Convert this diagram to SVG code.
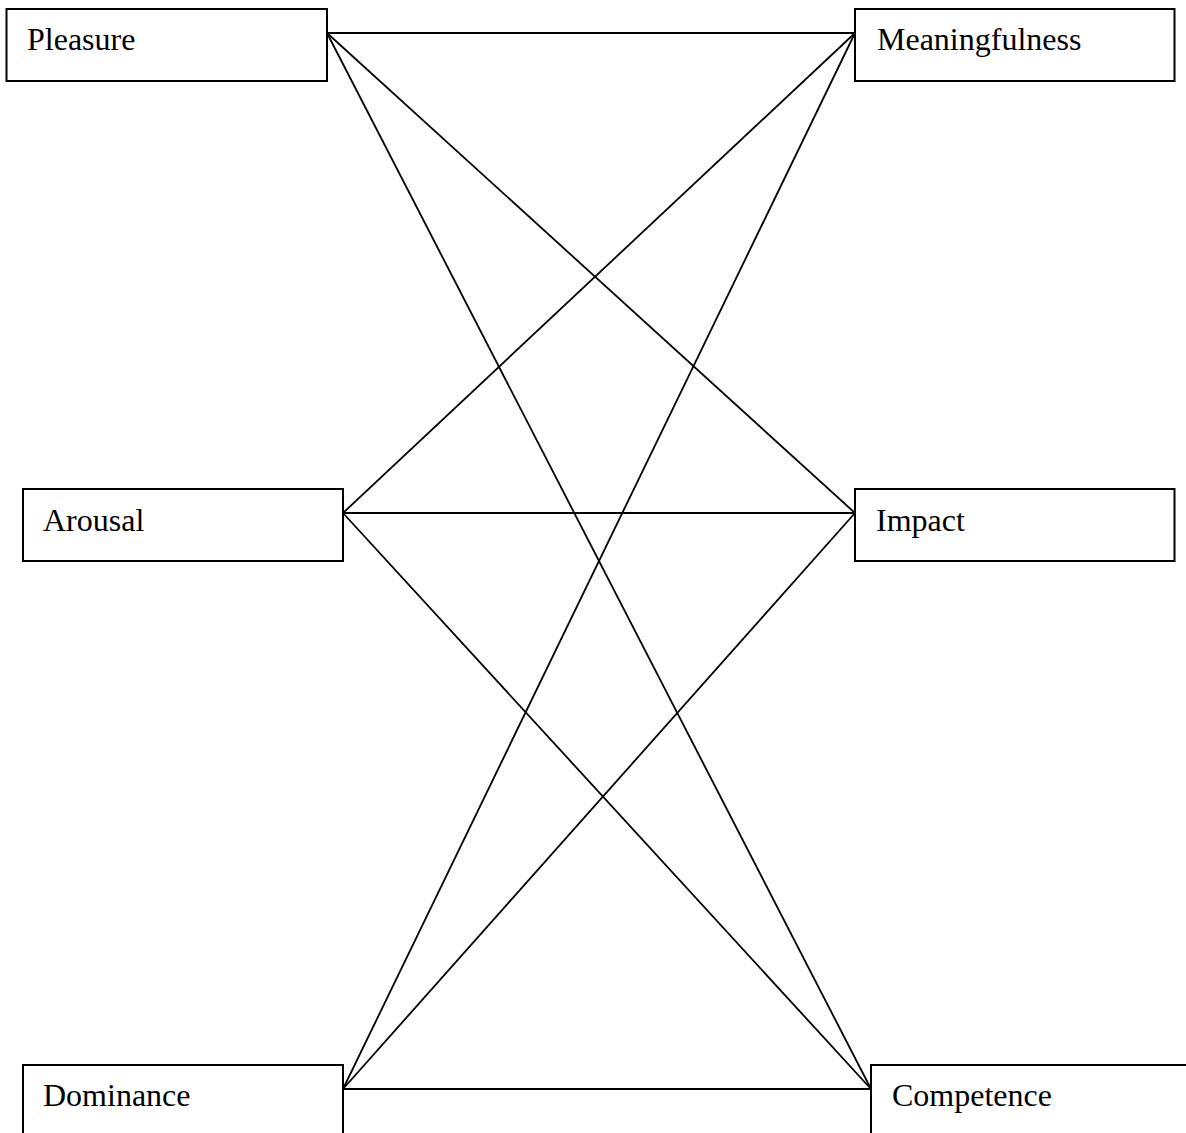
<svg xmlns="http://www.w3.org/2000/svg" width="1186" height="1133" viewBox="0 0 1186 1133">
<style>
.box{fill:#fff;stroke:#000;stroke-width:2}
.lbl{font-family:"Liberation Serif","Times New Roman",serif;font-size:32px;fill:#000}
.edge{stroke:#000;stroke-width:1.8;fill:none}
</style>
<rect width="1186" height="1133" fill="#fff"/>
<g id="connectors">
<line class="edge" x1="327" y1="33" x2="855" y2="33"/>
<line class="edge" x1="327" y1="33" x2="855" y2="513"/>
<line class="edge" x1="327" y1="33" x2="871" y2="1089"/>
<line class="edge" x1="343" y1="513" x2="855" y2="33"/>
<line class="edge" x1="343" y1="513" x2="855" y2="513"/>
<line class="edge" x1="343" y1="513" x2="871" y2="1089"/>
<line class="edge" x1="343" y1="1089" x2="855" y2="33"/>
<line class="edge" x1="343" y1="1089" x2="855" y2="513"/>
<line class="edge" x1="343" y1="1089" x2="871" y2="1089"/>
</g>
<g id="pleasure"><rect class="box" x="6.5" y="9" width="320.5" height="72"/><text class="lbl" x="27" y="50">Pleasure</text></g>
<g id="meaningfulness"><rect class="box" x="855" y="9" width="319.5" height="72"/><text class="lbl" x="877" y="50">Meaningfulness</text></g>
<g id="arousal"><rect class="box" x="23" y="489" width="320" height="72"/><text class="lbl" x="43" y="531">Arousal</text></g>
<g id="impact"><rect class="box" x="855" y="489" width="319.5" height="72"/><text class="lbl" x="876" y="531">Impact</text></g>
<g id="dominance"><rect class="box" x="23" y="1065" width="320" height="90"/><text class="lbl" x="43" y="1106">Dominance</text></g>
<g id="competence"><rect class="box" x="871" y="1065" width="340" height="90"/><text class="lbl" x="892" y="1106">Competence</text></g>
</svg>
